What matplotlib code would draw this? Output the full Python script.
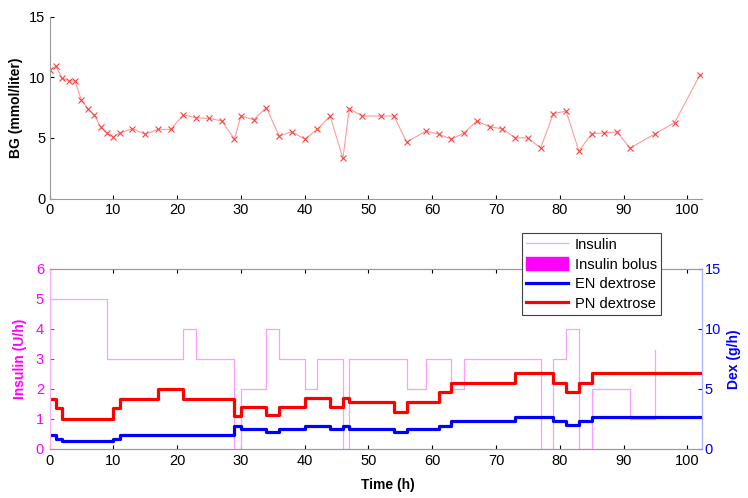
import matplotlib
matplotlib.use("Agg")
import matplotlib.pyplot as plt
from matplotlib.patches import Patch
from matplotlib.lines import Line2D

plt.rcParams['font.family'] = ['Liberation Sans', 'DejaVu Sans']

# ---- data ----
bg_time = [0, 1, 2, 3, 4, 5, 6, 7, 8, 9, 10, 11, 13, 15, 17, 19, 21, 23, 25, 27, 29,
           30, 32, 34, 36, 38, 40, 42, 44, 46, 47, 49, 52, 54, 56, 59, 61, 63, 65, 67,
           69, 71, 73, 75, 77, 79, 81, 83, 85, 87, 89, 91, 95, 98, 102]
bg_value = [10.6, 10.9, 9.9, 9.7, 9.7, 8.1, 7.4, 6.9, 5.9, 5.4, 5.05, 5.4,
            5.75, 5.3, 5.7, 5.7, 6.9, 6.65, 6.6, 6.4, 4.9,
            6.8, 6.5, 7.5, 5.15, 5.5, 4.9, 5.7, 6.8, 3.3, 7.4, 6.8, 6.8, 6.8, 4.65,
            5.55, 5.3, 4.9, 5.4, 6.4, 5.9, 5.75, 5.0, 5.0, 4.15, 7.0, 7.2, 3.9, 5.35,
            5.4, 5.5, 4.15, 5.35, 6.25, 10.2]

ins_time = [0, 9, 21, 23, 29, 30, 34, 36, 40, 42, 46, 47, 56, 59, 63, 65, 77, 79,
            81, 83, 85, 91, 95]
ins_value = [5, 3, 4, 3, 0, 2, 4, 3, 2, 3, 0, 3, 2, 3, 2, 3, 0, 3, 4, 0, 2, 1, 3.3]

dex_time = [0, 1, 2, 10, 11, 17, 21, 29, 30, 34, 36, 40, 44, 46, 47, 54, 56, 61,
            63, 73, 79, 81, 83, 85, 102.3]
pn_dex = [4.15, 3.4, 2.5, 3.4, 4.15, 5.0, 4.15, 2.75, 3.45, 2.85, 3.45, 4.2, 3.45,
          4.2, 3.9, 3.1, 3.9, 4.75, 5.45, 6.3, 5.45, 4.75, 5.45, 6.3, 6.3]
en_dex = [1.15, 0.85, 0.65, 0.85, 1.15, 1.15, 1.15, 1.93, 1.68, 1.4, 1.68, 1.93,
          1.68, 1.93, 1.68, 1.4, 1.68, 1.93, 2.3, 2.62, 2.3, 2.0, 2.3, 2.62, 2.62]

xticks = list(range(0, 101, 10))
XMAX = 102.3

W, H = 748, 498
fig = plt.figure(figsize=(W / 100, H / 100), dpi=100)

def fx(px):
    return px / W

def fy(py):
    return 1 - py / H

FS = 10.5
GRAY = '#9a9a9a'

# ---- top axes ----
ax1 = fig.add_axes([fx(49.5), fy(198.5), fx(702 - 49.5), (198.5 - 16.5) / H])
ax1.plot(bg_time, bg_value, color='#ff9a9a', lw=0.8, marker='x', ms=4.5,
         mec='#ff4040', mew=0.8)
ax1.set_xlim(0, XMAX)
ax1.set_ylim(0, 15)
ax1.set_xticks(xticks)
ax1.set_yticks([0, 5, 10, 15])
for s in ['top', 'right']:
    ax1.spines[s].set_visible(False)
for s in ['left', 'bottom']:
    ax1.spines[s].set_color(GRAY)
ax1.tick_params(direction='in', length=3, color='black', labelsize=FS, pad=3)
ax1.set_ylabel('BG (mmol/liter)', fontsize=FS - 0.5, fontweight='bold', labelpad=4)

# ---- bottom axes ----
ax2 = fig.add_axes([fx(49.5), fy(448.8), fx(702 - 49.5), 180 / H])
ax3 = ax2.twinx()
l_ins, = ax2.step(ins_time, ins_value, where='post', color='#ff9cff', lw=0.9)
l_en, = ax3.step(dex_time, en_dex, where='post', color='#0000ff', lw=2.3)
l_pn, = ax3.step(dex_time, pn_dex, where='post', color='#ff0000', lw=2.3)
ax2.set_xlim(0, XMAX)
ax2.set_ylim(0, 6)
ax3.set_ylim(0, 15)
ax2.set_xticks(xticks)
ax2.set_yticks(range(0, 7))
ax3.set_yticks([0, 5, 10, 15])
ax2.tick_params(axis='x', direction='in', length=3, color='black', labelsize=FS,
                top=True, pad=4)
ax2.tick_params(axis='y', direction='in', length=3, color='#ff00ff',
                labelcolor='#ff00ff', labelsize=FS, pad=4)
ax3.tick_params(axis='y', direction='in', length=3, color='#0000ff',
                labelcolor='#0000ff', labelsize=FS, pad=2)
for a in (ax2, ax3):
    a.spines['top'].set_color(GRAY)
    a.spines['bottom'].set_color(GRAY)
    a.spines['left'].set_color('#f7b0f7')
    a.spines['right'].set_color('#b0b0ff')
ax2.set_ylabel('Insulin (U/h)', fontsize=FS - 0.5, fontweight='bold',
               color='#ff00ff', labelpad=6)
ax3.set_ylabel('Dex (g/h)', fontsize=FS - 0.5, fontweight='bold', color='#0000ff',
               labelpad=4)
ax2.set_xlabel('Time (h)', fontsize=FS - 0.5, fontweight='bold')
ax2.xaxis.set_label_coords((387.5 - 49.5) / (702 - 49.5), -0.16)

handles = [Line2D([], [], color='#ff9cff', lw=0.9),
           Patch(facecolor='#ff00ff', edgecolor='#ff00ff'),
           Line2D([], [], color='#0000ff', lw=2.3),
           Line2D([], [], color='#ff0000', lw=2.3)]
labels = ['Insulin', 'Insulin bolus', 'EN dextrose', 'PN dextrose']
leg = ax3.legend(handles, labels, loc='upper left',
                 bbox_to_anchor=(fx(521.7), fy(233.3)),
                 bbox_transform=fig.transFigure, borderaxespad=0,
                 fontsize=FS, frameon=True, fancybox=False, edgecolor='#404040',
                 handlelength=2.9, handleheight=1.0, handletextpad=0.45,
                 labelspacing=0.35, borderpad=0.3, framealpha=1)
leg.get_frame().set_linewidth(0.8)
leg.set_zorder(10)

fig.savefig('out.png', dpi=100)
